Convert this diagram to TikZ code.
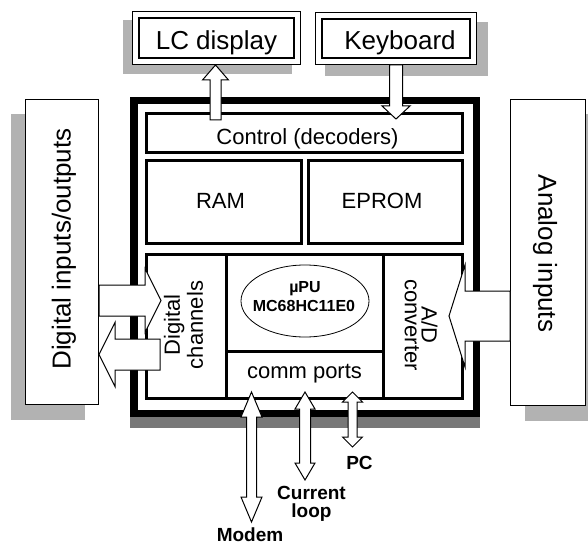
\documentclass[tikz,border=0pt]{standalone}
\usepackage{fontspec}
\setmainfont{Liberation Sans}
\usetikzlibrary{calc,shapes.geometric}

% single block arrow: #1 tail, #2 tip, #3 shaft half width, #4 head half width, #5 head length
\newcommand{\blockarrow}[5]{%
  \coordinate (ba-h) at ($(#2)!#5!(#1)$);
  \draw[barrow] ($(#1)!#3!90:(#2)$) -- ($(ba-h)!#3!90:(#2)$) -- ($(ba-h)!#4!90:(#2)$)
    -- (#2) -- ($(ba-h)!#4!-90:(#2)$) -- ($(ba-h)!#3!-90:(#2)$) -- ($(#1)!#3!-90:(#2)$) -- cycle;}
% double block arrow: #1 tip, #2 tip, #3 shaft half width, #4 head half width, #5 head length
\newcommand{\dblockarrow}[5]{%
  \coordinate (ba-a) at ($(#1)!#5!(#2)$);
  \coordinate (ba-b) at ($(#2)!#5!(#1)$);
  \draw[barrow] (#1) -- ($(ba-a)!#4!90:(#2)$) -- ($(ba-a)!#3!90:(#2)$)
    -- ($(ba-b)!#3!-90:(#1)$) -- ($(ba-b)!#4!-90:(#1)$) -- (#2)
    -- ($(ba-b)!#4!90:(#1)$) -- ($(ba-b)!#3!90:(#1)$)
    -- ($(ba-a)!#3!-90:(#2)$) -- ($(ba-a)!#4!-90:(#2)$) -- cycle;}

\tikzset{
  shadowA/.style={fill=black!30, draw=none},
  shadowB/.style={fill=black!53, draw=none},
  dbox/.style={draw, double, double distance=5pt, line width=1.3pt, fill=white, inner sep=0, rectangle},
  sbox/.style={draw, line width=1.3pt, fill=white, inner sep=0, rectangle},
  frame/.style={draw, line width=7.5pt, inner sep=0, rectangle},
  ibox/.style={draw, line width=3pt, inner sep=0, rectangle},
  barrow/.style={draw, fill=white, line width=1pt, line join=miter},
  bigtxt/.style={font=\fontsize{26}{30}\selectfont, inner sep=0},
  midtxt/.style={font=\fontsize{22}{26}\selectfont, inner sep=0},
  boldtxt/.style={font=\bfseries\fontsize{19}{17.5}\selectfont, inner sep=0, align=center},
}

\begin{document}
\begin{tikzpicture}[x=1pt,y=-1pt]
\useasboundingbox (0,0) rectangle (588,545);

% shadows
\fill[shadowA] (123,20) rectangle (292,74);
\fill[shadowA] (325,22) rectangle (488,76);
\fill[shadowA] (11,114) rectangle (85,420);
\fill[shadowA] (525,114) rectangle (600,421);
\fill[shadowB] (130,410) rectangle (480,428);

% top boxes
\node[dbox, minimum width=161.4pt, minimum height=46.4pt] (lcd) at (216.5,38) {};
\node[dbox, minimum width=154.4pt, minimum height=45.4pt] (kbd) at (396,38.5) {};
\node[bigtxt, anchor=base] (lcdt) at (216.5,50) {LC display};
\node[bigtxt, anchor=base] (kbdt) at (400,50) {Keyboard};

% side boxes
\node[sbox, minimum width=72.7pt, minimum height=304.7pt] (dio) at (62,252) {};
\node[sbox, minimum width=74.7pt, minimum height=305.7pt] (ain) at (548,252.5) {};
\node[bigtxt, rotate=90, anchor=base] (diot) at (70.7,249) {Digital inputs/outputs};
\node[bigtxt, rotate=-90, anchor=base] (aint) at (538.3,253.5) {Analog inputs};

% main frame
\node[frame, fill=white, minimum width=342.5pt, minimum height=312.5pt] (mcu) at (305,257) {};
\node[ibox, minimum width=315.5pt, minimum height=39.7pt] (ctrl) at (304.25,133.15) {};
\node[ibox, minimum width=155.2pt, minimum height=82.5pt] (ram) at (224.1,202.05) {};
\node[ibox, minimum width=153.7pt, minimum height=82.5pt] (eprom) at (385.15,202.05) {};
\node[ibox, minimum width=315.5pt, minimum height=144pt] (lower) at (304.25,326.3) {};
\node[ibox, minimum width=79.7pt, minimum height=144pt] (dch) at (186.35,326.3) {};
\node[ibox, minimum width=79pt, minimum height=144pt] (adc) at (422.5,326.3) {};
\node[ibox, minimum width=156.8pt, minimum height=47.3pt] (comm) at (304.6,374.65) {};
\node[ellipse, draw, line width=0.8pt, minimum width=128pt, minimum height=72pt, inner sep=0] (cpu) at (305,301) {};

\node[midtxt, anchor=base] (ctrlt) at (307.5,145) {Control (decoders)};
\node[midtxt, anchor=base] (ramt) at (220.5,209) {RAM};
\node[midtxt, anchor=base] (epromt) at (382,209) {EPROM};
\node[midtxt, anchor=base] (commt) at (304.5,378.5) {comm ports};
\node[midtxt, rotate=90, align=center, font=\fontsize{22}{23}\selectfont] (dcht) at (183.5,325) {Digital\\channels};
\node[midtxt, rotate=-90, align=center, font=\fontsize{22}{16.7}\selectfont] (adct) at (421.2,325) {A/D\\converter};
\node[inner sep=0, anchor=base, font=\bfseries\fontsize{16}{19}\selectfont] (cput1) at (305,292) {µPU};
\node[inner sep=0, anchor=base, font=\bfseries\fontsize{16}{19}\selectfont] (cput2) at (304,311) {MC68HC11E0};

% arrow end points
\coordinate (lcdA) at (215.5,120); \coordinate (lcdB) at (215.5,65);
\coordinate (kbdA) at (396,65);    \coordinate (kbdB) at (396,119);
\coordinate (dinA) at (99,300.5);  \coordinate (dinB) at (161,300.5);
\coordinate (doutA) at (160,354.5); \coordinate (doutB) at (99,354.5);
\coordinate (ainA) at (510,316);   \coordinate (ainB) at (449,316);
\coordinate (modA) at (251.5,392); \coordinate (modB) at (251.5,522);
\coordinate (curA) at (305,392);   \coordinate (curB) at (305,480);
\coordinate (pcA) at (352.5,392);  \coordinate (pcB) at (352.5,447);

\blockarrow{lcdA}{lcdB}{5.5pt}{13pt}{15pt}
\blockarrow{kbdA}{kbdB}{6.5pt}{14pt}{13pt}
\blockarrow{dinA}{dinB}{15.5pt}{32pt}{16pt}
\blockarrow{doutA}{doutB}{15.5pt}{32pt}{16pt}
\blockarrow{ainA}{ainB}{25pt}{51pt}{16pt}
\dblockarrow{modA}{modB}{5pt}{10.5pt}{25pt}
\dblockarrow{curA}{curB}{5.5pt}{10pt}{17pt}
\dblockarrow{pcA}{pcB}{4.5pt}{10pt}{10pt}

% port labels
\node[boldtxt, anchor=base] (pct) at (359.5,469) {PC};
\node[boldtxt] (curt) at (311.5,504) {Current\\loop};
\node[boldtxt, anchor=base] (modt) at (250,541) {Modem};
\end{tikzpicture}
\end{document}
